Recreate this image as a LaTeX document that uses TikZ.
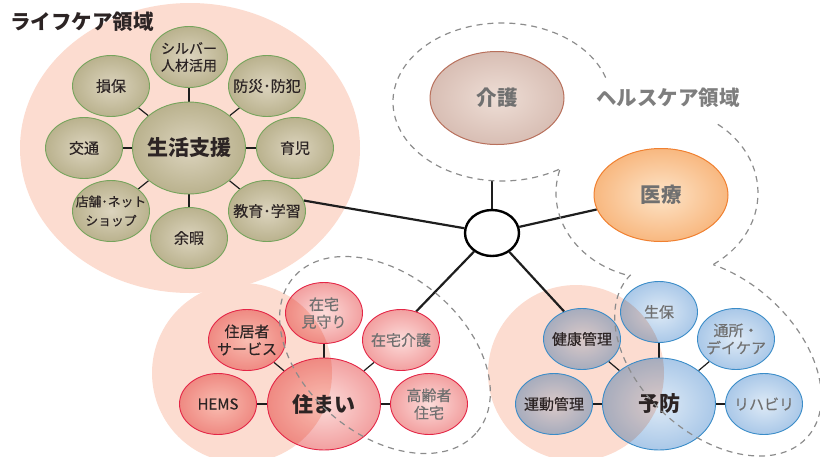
\documentclass[tikz,border=0pt]{standalone}
\usepackage{fontspec}
\setmainfont{Noto Sans CJK JP}
\newfontfamily\jpmed{Noto Sans CJK JP}[FakeBold=0.4]
\usetikzlibrary{shapes.geometric}
\definecolor{peach}{RGB}{252,220,208}
\definecolor{lcin}{RGB}{220,212,190}
\definecolor{lcout}{RGB}{186,178,142}
\definecolor{lcbd}{RGB}{118,164,92}
\definecolor{txtdark}{RGB}{44,36,36}
\definecolor{txtgray}{RGB}{112,112,112}
\definecolor{lblgray}{RGB}{126,126,126}
\definecolor{hsin}{RGB}{252,220,218}
\definecolor{hsout}{RGB}{242,160,160}
\definecolor{hsbd}{RGB}{228,38,70}
\definecolor{pvin}{RGB}{222,234,246}
\definecolor{pvout}{RGB}{170,200,232}
\definecolor{pvbd}{RGB}{58,140,200}
\definecolor{kgin}{RGB}{238,222,214}
\definecolor{kgout}{RGB}{216,190,180}
\definecolor{kgbd}{RGB}{184,112,92}
\definecolor{iyin}{RGB}{253,228,200}
\definecolor{iyout}{RGB}{248,184,128}
\definecolor{iybd}{RGB}{240,128,48}
\definecolor{dashgray}{RGB}{140,140,140}
\definecolor{linek}{RGB}{30,30,30}
\pgfdeclarelayer{peachlayer}
\pgfdeclarelayer{bg}
\pgfsetlayers{peachlayer,bg,main}
\begin{document}
\begin{tikzpicture}[x=1pt,y=1pt,
 every node/.style={inner sep=0pt, align=center},
 sat/.style={ellipse, minimum width=77pt, minimum height=61pt, inner xsep=-14pt, line width=0.9pt, font=\jpmed\fontsize{15}{17.5}\selectfont},
 bigc/.style={ellipse, minimum width=113pt, minimum height=92pt, inner xsep=-12pt, line width=0.9pt, font=\bfseries\fontsize{21}{24}\selectfont},
 lcfill/.style={draw=lcbd, inner color=lcin, outer color=lcout, text=txtdark},
 hsfill/.style={draw=hsbd, preaction={blend mode=multiply, inner color=hsin, outer color=hsout}},
 pvfill/.style={draw=pvbd, preaction={blend mode=multiply, inner color=pvin, outer color=pvout}},
 dk/.style={text=txtdark}, gy/.style={text=txtgray},
 conn/.style={draw=linek, line width=1.2pt},
 hubconn/.style={draw=linek, line width=2.2pt},
 encl/.style={draw=dashgray, line width=1.2pt, dash pattern=on 6pt off 5pt},
 hcnode/.style={ellipse, minimum width=134pt, minimum height=93pt, inner xsep=-12pt, line width=1pt, text=txtgray, font=\bfseries\fontsize{20.5}{24}\selectfont},
 regionlabel/.style={font=\bfseries\fontsize{20.5}{24}\selectfont}
]
\useasboundingbox (0,0) rectangle (820,-456);

\begin{pgfonlayer}{peachlayer}
\fill[peach] (190,-148) ellipse [x radius=170, y radius=145];
\fill[peach] (242,-373) circle [radius=90];
\fill[peach] (576,-373) circle [radius=88];
\end{pgfonlayer}

% life care
\node[bigc, lcfill] (seikatsu) at (189,-148) {生活支援};
\node[sat, lcfill, font=\jpmed\fontsize{14}{17}\selectfont] (silver) at (189,-57) {シルバー\\人材活用};
\node[sat, lcfill] (sonpo) at (111,-86) {損保};
\node[sat, lcfill] (bousai) at (267,-86) {防災･防犯};
\node[sat, lcfill] (koutsu) at (84,-148) {交通};
\node[sat, lcfill] (ikuji) at (295,-148) {育児};
\node[sat, lcfill, font=\jpmed\fontsize{12.8}{19}\selectfont] (tenpo) at (111,-211) {店舗･ネット\\ショップ};
\node[sat, lcfill] (yoka) at (189,-238) {余暇};
\node[sat, lcfill] (kyoiku) at (267,-211) {教育･学習};

% housing
\node[bigc, hsfill, dk] (sumai) at (324,-404) {住まい};
\node[sat, hsfill, dk] (jukyo) at (247,-340) {住居者\\サービス};
\node[sat, hsfill, gy] (mimamori) at (324,-313) {在宅\\見守り};
\node[sat, hsfill, gy] (zaikai) at (401,-340) {在宅介護};
\node[sat, hsfill, dk] (hems) at (218,-404) {HEMS};
\node[sat, hsfill, gy] (koureisha) at (429,-404) {高齢者\\住宅};

% prevention
\node[bigc, pvfill, dk] (yobou) at (659,-404) {予防};
\node[sat, pvfill, dk] (kenko) at (582,-339) {健康管理};
\node[sat, pvfill, gy] (seiho) at (659,-312) {生保};
\node[sat, pvfill, gy] (tsusho) at (736,-339) {通所・\\デイケア};
\node[sat, pvfill, dk] (undou) at (554,-404) {運動管理};
\node[sat, pvfill, gy] (rehab) at (764,-404) {リハビリ};

% health care
\node[hcnode, draw=kgbd, inner color=kgin, outer color=kgout] (kaigo) at (497,-98) {介護};
\node[hcnode, draw=iybd, inner color=iyin, outer color=iyout] (iryo) at (661,-195) {医療};

% dashed health-care outlines
\draw[encl] (502,-102) ++(18:109 and 79) arc[start angle=18, end angle=303, x radius=109, y radius=79];
\draw[encl] (657,-193) ++(53:101 and 86) arc[start angle=53, end angle=-58, x radius=101, y radius=86];
\draw[encl] (657,-193) ++(164.5:101 and 86) arc[start angle=164.5, end angle=254, x radius=101, y radius=86];
\begin{scope}[shift={(718,-357)}, rotate=-42]
\draw[encl] (178:120 and 78) arc[start angle=178, end angle=483, x radius=120, y radius=78];
\end{scope}
\draw[encl, rotate around={-40:(385,-355)}] (385,-355) ellipse [x radius=120, y radius=80];

% hub
\node[ellipse, draw=black, line width=2.4pt, fill=white, minimum width=54pt, minimum height=46pt] (hub) at (492,-233) {};
\coordinate (kaigoEnc) at (492,-180.5);

\begin{pgfonlayer}{bg}
\foreach \s in {silver,sonpo,bousai,koutsu,ikuji,tenpo,yoka,kyoiku}
  \draw[conn] (seikatsu) -- (\s);
\foreach \s in {jukyo,mimamori,zaikai,hems,koureisha}
  \draw[conn] (sumai) -- (\s);
\foreach \s in {kenko,seiho,tsusho,undou,rehab}
  \draw[conn] (yobou) -- (\s);
\draw[hubconn] (kyoiku.16) -- (hub);
\draw[hubconn] (hub) -- (kaigoEnc);
\draw[hubconn] (hub) -- (iryo);
\draw[hubconn] (hub) -- (zaikai.62);
\draw[hubconn] (hub) -- (kenko.123);
\end{pgfonlayer}

% region labels
\node[regionlabel, text=txtdark] (lclabel) at (82,-22) {ライフケア領域};
\node[regionlabel, text=lblgray] (hclabel) at (668,-98) {ヘルスケア領域};
\end{tikzpicture}
\end{document}
